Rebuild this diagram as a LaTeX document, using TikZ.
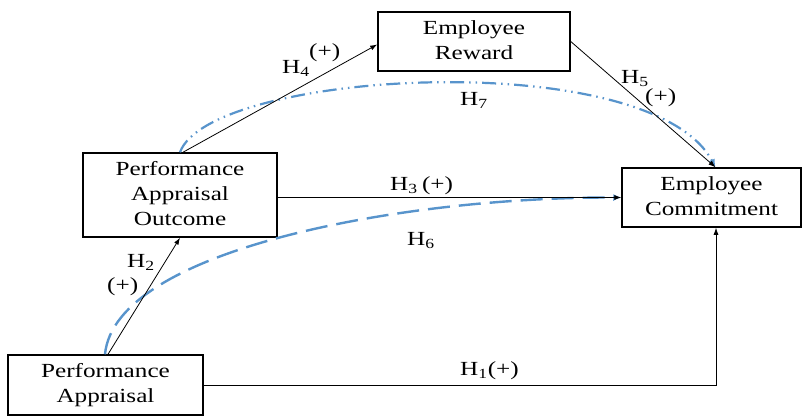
\documentclass[tikz,border=0pt]{standalone}
\usepackage{fontspec}
\setmainfont{Liberation Serif}
\usepackage{graphicx}
\usetikzlibrary{arrows.meta}
\definecolor{hblue}{RGB}{88,148,204}
\newcommand\wtxt[1]{\scalebox{1.26}[1]{\begin{tabular}{@{}c@{}}#1\end{tabular}}}
\newcommand\wlab[1]{\scalebox{1.26}[1]{#1}}
\begin{document}
\begin{tikzpicture}[x=1pt,y=-1pt,
  every node/.style={font=\fontsize{20}{25}\selectfont},
  box/.style={draw, line width=1.5pt, inner sep=0pt, fill=white},
  conn/.style={line width=0.8pt, -{Latex[length=7pt,width=5pt]}},
  blue6/.style={hblue, line width=2.4pt, dash pattern=on 22pt off 9pt, -{Latex[length=8pt,width=7pt]}},
  blue7/.style={hblue, line width=2.2pt, dash pattern=on 14pt off 5pt on 1.5pt off 5pt on 1.5pt off 5pt, -{Latex[length=8pt,width=7pt]}},
  lab/.style={anchor=base west, inner sep=0pt}]
\useasboundingbox (0,0) rectangle (804,416);
\fill[white] (0,0) rectangle (804,416);

% boxes
\node[box, minimum width=195pt, minimum height=60pt] (PA) at (105.5,385) {\wtxt{Performance\\Appraisal}};
\node[box, minimum width=194pt, minimum height=84pt] (PAO) at (180,195) {\wtxt{Performance\\Appraisal\\Outcome}};
\node[box, minimum width=192pt, minimum height=59pt] (ER) at (474,41.5) {\wtxt{Employee\\Reward}};
\node[box, minimum width=179pt, minimum height=59pt] (EC) at (711.5,197.5) {\wtxt{Employee\\Commitment}};

% blue curves
\draw[blue7] (PAO.north) .. controls (210,70) and (650,45) .. ([xshift=4pt]EC.north);
\draw[blue6] ([xshift=-0.5pt]PA.north) .. controls (115,250) and (400,197) .. (EC.west);

% black connectors
\draw[conn] (PA.east) -| ([xshift=4.5pt]EC.south);
\draw[conn] (PAO.east |- EC.west) -- (EC.west);
\draw[conn] ([xshift=2.5pt]PA.north) -- (PAO.south);
\draw[conn] ([xshift=3pt]PAO.north) -- ([yshift=-3pt]ER.west);
\draw[conn] (ER.east) -- ([xshift=4pt]EC.north);

% labels
\node[lab] (l1) at (460,375) {\wlab{H\textsubscript{1}(+)}};
\node[lab] (l2) at (127,267) {\wlab{H\textsubscript{2}}};
\node[lab] (l2p) at (107,291) {\wlab{(+)}};
\node[lab] (l3) at (390,190) {\wlab{H\textsubscript{3}\,(+)}};
\node[lab] (l4) at (282,73) {\wlab{H\textsubscript{4}}};
\node[lab] (l4p) at (309,57) {\wlab{(+)}};
\node[lab] (l5) at (621,83) {\wlab{H\textsubscript{5}}};
\node[lab] (l5p) at (645,102) {\wlab{(+)}};
\node[lab] (l6) at (407,245) {\wlab{H\textsubscript{6}}};
\node[lab] (l7) at (460,105) {\wlab{H\textsubscript{7}}};
\end{tikzpicture}
\end{document}
